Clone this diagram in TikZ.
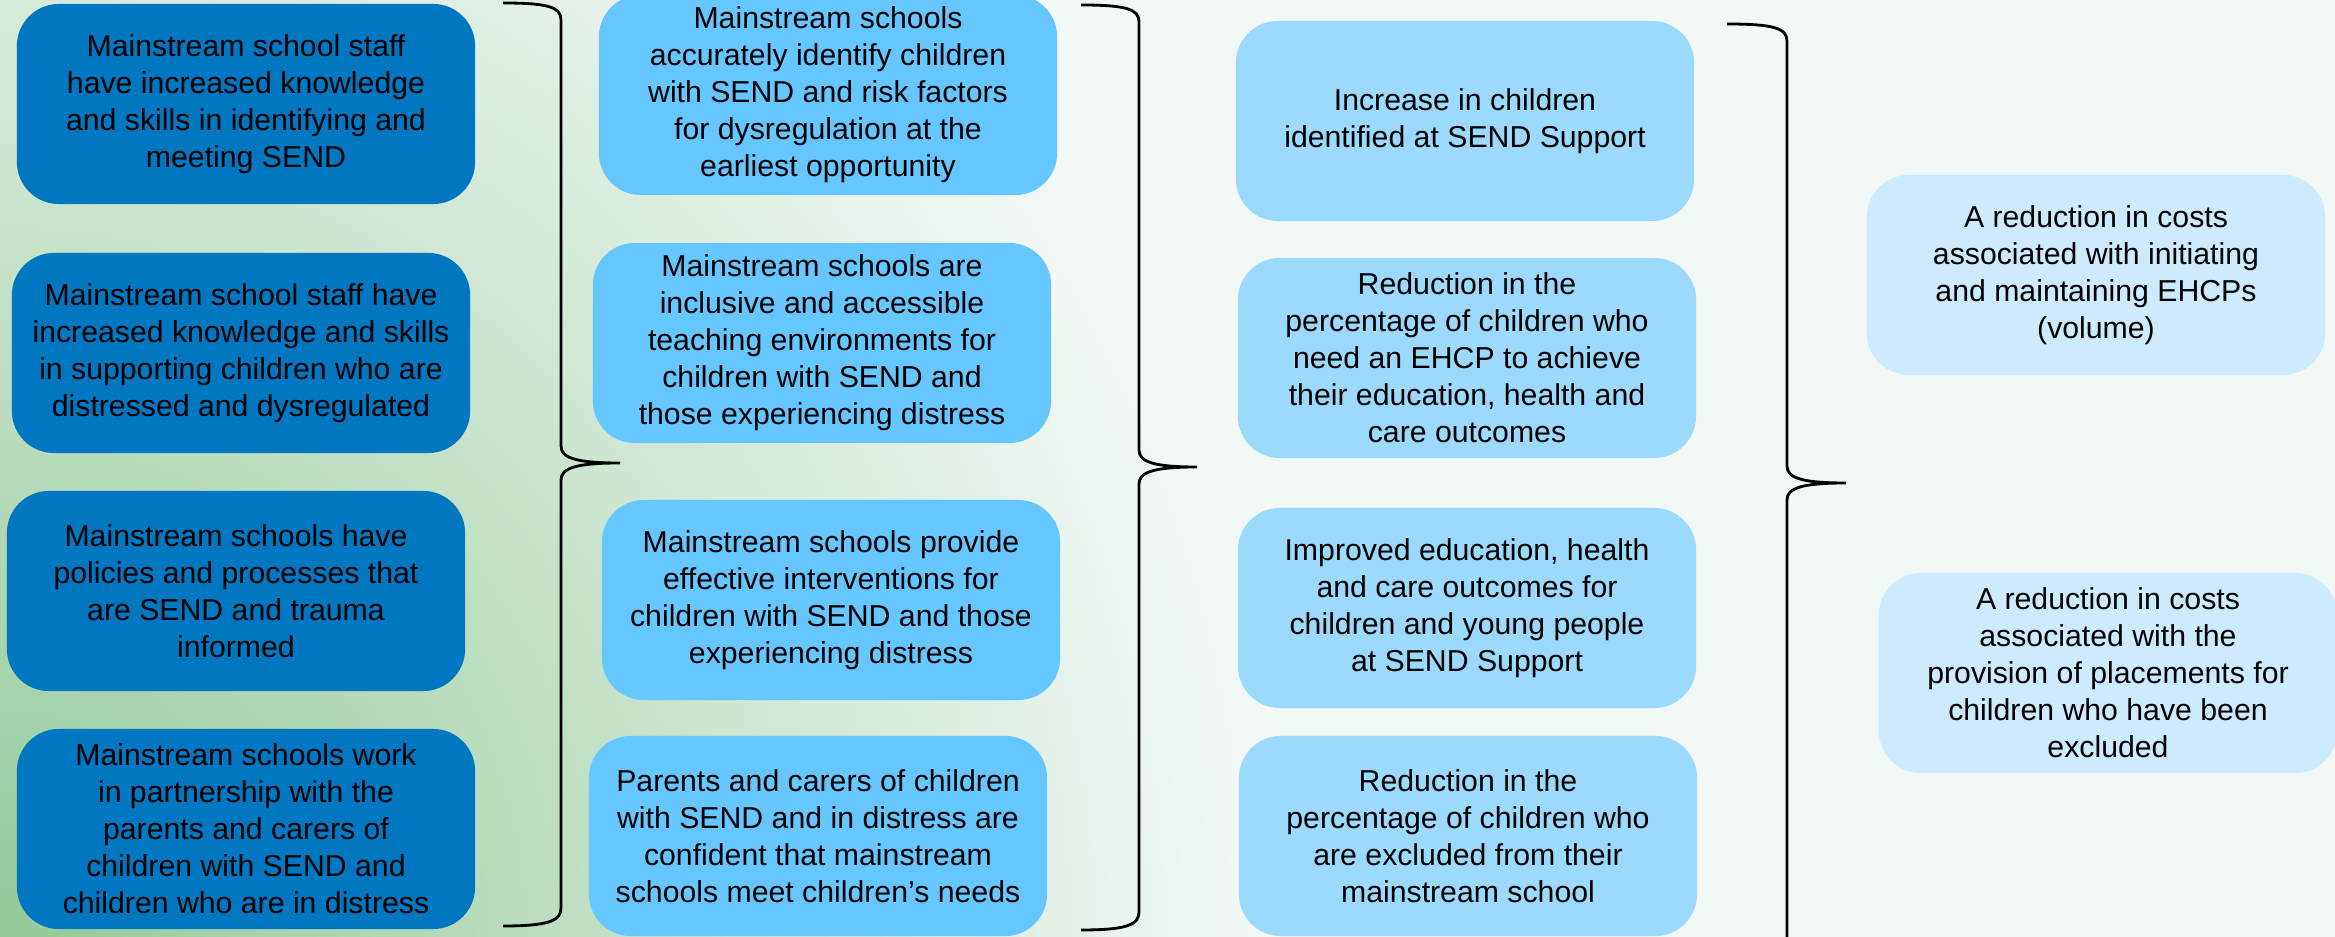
\documentclass[tikz,border=0pt]{standalone}
\usepackage{fontspec}
\setmainfont{Liberation Sans}

\definecolor{actblue}{RGB}{0,119,192}
\definecolor{outblue}{RGB}{102,198,255}
\definecolor{resblue}{RGB}{155,218,253}
\definecolor{costblue}{RGB}{204,235,255}
\definecolor{bggreen}{RGB}{146,202,152}
\definecolor{bgpale}{RGB}{242,248,245}

\tikzset{
    box/.style = {rectangle, rounded corners = .42cm, minimum width = 4.58cm, minimum height = 2cm,
        inner sep = 2pt, align = center, text = black, font = \fontsize{8.6}{10.5}\selectfont},
    actbox/.style = {box, fill = actblue},
    outbox/.style = {box, fill = outblue},
    resbox/.style = {box, fill = resblue},
    costbox/.style = {box, fill = costblue},
    brc/.style = {draw = black, line width = .8pt}
}

\begin{document}
\begin{tikzpicture}[x = .01cm, y = -.01cm]
        \useasboundingbox (0, 0) rectangle (2335, 937);
        \fill[bgpale] (0, 0) rectangle (2335, 937);
        \begin{scope}
            \clip (0, 0) rectangle (2335, 937);
            \shade[inner color = bggreen, outer color = bgpale] (0, 950) ellipse (12.5cm and 13cm);
        \end{scope}

        \node[actbox] (act1) at (246, 104) {Mainstream school staff\\have increased knowledge\\and skills in identifying and\\meeting SEND};
        \node[actbox] (act2) at (241, 353) {Mainstream school staff have\\increased knowledge and skills\\in supporting children who are\\distressed and dysregulated};
        \node[actbox] (act3) at (236, 591) {Mainstream schools have\\policies and processes that\\are SEND and trauma\\informed};
        \node[actbox] (act4) at (246, 829) {Mainstream schools work\\in partnership with the\\parents and carers of\\children with SEND and\\children who are in distress};

        \node[outbox] (out1) at (828, 95) {Mainstream schools\\accurately identify children\\with SEND and risk factors\\for dysregulation at the\\earliest opportunity};
        \node[outbox] (out2) at (822, 343) {Mainstream schools are\\inclusive and accessible\\teaching environments for\\children with SEND and\\those experiencing distress};
        \node[outbox] (out3) at (831, 600) {Mainstream schools provide\\effective interventions for\\children with SEND and those\\experiencing distress};
        \node[outbox] (out4) at (818, 836) {Parents and carers of children\\with SEND and in distress are\\confident that mainstream\\schools meet children’s needs};

        \node[resbox] (res1) at (1465, 121) {Increase in children\\identified at SEND Support};
        \node[resbox] (res2) at (1467, 358) {Reduction in the\\percentage of children who\\need an EHCP to achieve\\their education, health and\\care outcomes};
        \node[resbox] (res3) at (1467, 608) {Improved education, health\\and care outcomes for\\children and young people\\at SEND Support};
        \node[resbox] (res4) at (1468, 836) {Reduction in the\\percentage of children who\\are excluded from their\\mainstream school};

        \node[costbox] (cost1) at (2096, 275) {A reduction in costs\\associated with initiating\\and maintaining EHCPs\\(volume)};
        \node[costbox] (cost2) at (2108, 673) {A reduction in costs\\associated with the\\provision of placements for\\children who have been\\excluded};

        \draw[brc] (503, 3) .. controls (548, 3) and (561, 7) .. (561, 20) -- (561, 446)
            .. controls (561, 458) and (576, 463) .. (620, 463) .. controls (576, 463) and (561, 468) .. (561, 480)
            -- (561, 908) .. controls (561, 921) and (548, 926) .. (503, 926);
        \draw[brc] (1081, 5) .. controls (1126, 5) and (1139, 9) .. (1139, 22) -- (1139, 450)
            .. controls (1139, 462) and (1154, 467) .. (1197, 467) .. controls (1154, 467) and (1139, 472) .. (1139, 484)
            -- (1139, 912) .. controls (1139, 925) and (1126, 930) .. (1081, 930);
        \draw[brc] (1727, 24) .. controls (1773, 24) and (1787, 28) .. (1787, 41) -- (1787, 466)
            .. controls (1787, 478) and (1802, 483) .. (1846, 483) .. controls (1802, 483) and (1787, 488) .. (1787, 500)
            -- (1787, 960);
    \end{tikzpicture}
\end{document}
